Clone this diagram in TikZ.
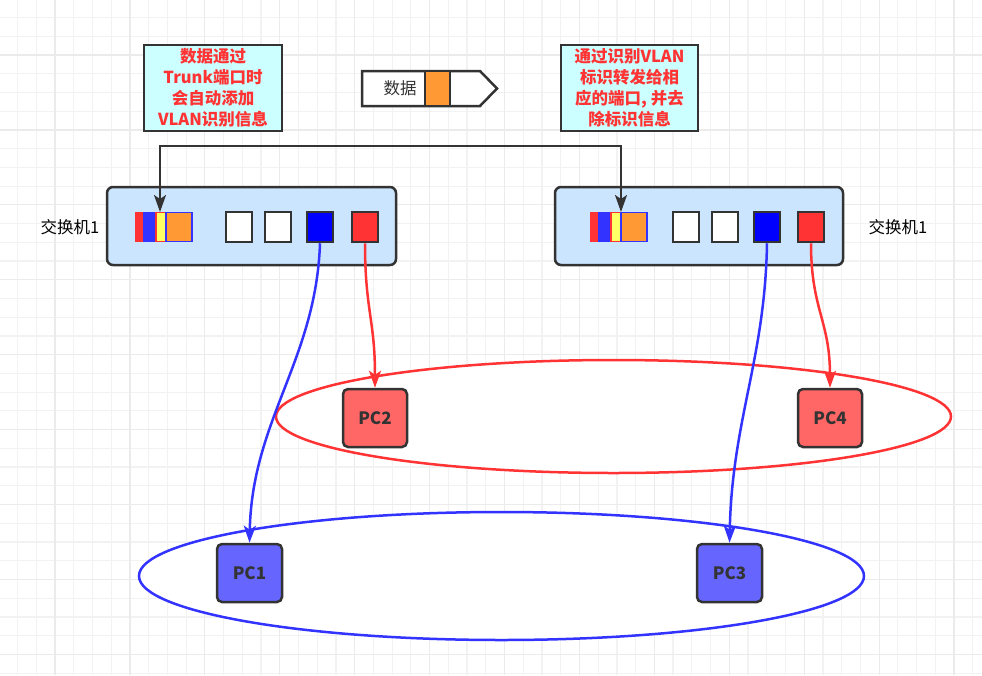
\documentclass[tikz,border=0pt]{standalone}
\usepackage{fontspec}
\setmainfont{Liberation Sans}
\newfontfamily\cjk{Noto Sans CJK SC}
\usetikzlibrary{arrows.meta,shapes.geometric}
\definecolor{edge}{HTML}{333333}
\definecolor{swfill}{HTML}{CCE5FF}
\definecolor{boxfill}{HTML}{CCFFFF}
\definecolor{redtxt}{HTML}{FF3333}
\definecolor{portblue}{HTML}{0000FF}
\definecolor{portred}{HTML}{FF3333}
\definecolor{pcred}{HTML}{FF6666}
\definecolor{pcblue}{HTML}{6666FF}
\definecolor{linered}{HTML}{FF3333}
\definecolor{lineblue}{HTML}{3333FF}
\definecolor{tagorange}{HTML}{FF9933}
\definecolor{tagyellow}{HTML}{FFFF66}
\definecolor{gridminor}{HTML}{F2F2F2}
\definecolor{gridmajor}{HTML}{EBEBEB}
\tikzset{
  switchbox/.style={draw=edge, line width=2.5pt, fill=swfill, rounded corners=6pt, inner sep=0pt, minimum height=78pt},
  portbox/.style={draw=edge, line width=2.5pt, minimum width=26pt, minimum height=30pt, inner sep=0pt},
  tagbar/.style={inner sep=0pt, minimum height=30pt},
  notebox/.style={draw=edge, line width=2.5pt, fill=boxfill, inner sep=0pt, minimum width=138pt, minimum height=86pt,
     font=\cjk\bfseries\fontsize{16.5}{21}\selectfont, text=redtxt, align=center},
  pcbox/.style={draw=edge, line width=2.5pt, rounded corners=5pt, inner sep=0pt, minimum width=64pt, minimum height=58pt,
     font=\cjk\bfseries\fontsize{17}{20}\selectfont, text=edge},
  vlanring/.style={ellipse, line width=2.5pt, fill=white, inner sep=0pt},
  swlabel/.style={font=\cjk\fontsize{16.5}{20}\selectfont, text=black, inner sep=0pt},
  tip/.style={-{Stealth[length=17pt,width=12pt,inset=4pt]}},
  trunkline/.style={draw=edge, line width=2.2pt, {Stealth[length=17pt,width=12pt,inset=4pt]}-{Stealth[length=17pt,width=12pt,inset=4pt]}},
  redlink/.style={draw=linered, line width=2.5pt, tip},
  bluelink/.style={draw=lineblue, line width=2.5pt, tip},
}
\begin{document}
\begin{tikzpicture}[x=1pt,y=-1pt]
\fill[white] (0,0) rectangle (982,675);
\useasboundingbox (0,0) rectangle (982,675);
% grid
\foreach \k in {-2,...,49}{
  \pgfmathsetmacro\gx{55+18.73*\k}
  \draw[gridminor, line width=1.2pt] (\gx,0) -- (\gx,675);
}
\foreach \k in {-2,...,33}{
  \pgfmathsetmacro\gy{55+18.73*\k}
  \draw[gridminor, line width=1.2pt] (0,\gy) -- (982,\gy);
}
\foreach \k in {0,...,12}{
  \pgfmathsetmacro\gx{55+74.92*\k}
  \draw[gridmajor, line width=1.2pt] (\gx,0) -- (\gx,675);
}
\foreach \k in {0,...,8}{
  \pgfmathsetmacro\gy{55+74.92*\k}
  \draw[gridmajor, line width=1.2pt] (0,\gy) -- (982,\gy);
}

% VLAN rings
\node[vlanring, draw=linered, minimum width=675pt, minimum height=113pt] (vlanred) at (613.5,416.5) {};
\node[vlanring, draw=lineblue, minimum width=725pt, minimum height=128pt] (vlanblue) at (501.5,576) {};

% notes
\node[notebox] (noteL) at (213,88) {数据通过\\Trunk端口时\\会自动添加\\VLAN识别信息};
\node[notebox, minimum width=137pt] (noteR) at (629.5,88) {通过识别VLAN\\标识转发给相\\应的端口, 并去\\除标识信息};

% data packet
\draw[edge, line width=2.5pt, fill=white] (362,71) -- (480,71) -- (497,88.5) -- (480,106) -- (362,106) -- cycle;
\node[draw=edge, line width=2.5pt, fill=tagorange, minimum width=25pt, minimum height=35pt, inner sep=0pt] (pkttag) at (437.5,88.5) {};
\node[swlabel, text=edge] (pkttext) at (400,88.5) {数据};

% switches
\node[switchbox, minimum width=289pt] (swL) at (251.5,226) {};
\node[switchbox, minimum width=288pt] (swR) at (699,226) {};
\node[swlabel] (swLlabel) at (70,227) {交换机1};
\node[swlabel] (swRlabel) at (898,227) {交换机1};

% left switch trunk stack
\node[tagbar, fill=portred, minimum width=15pt] (lred) at (142.5,227) {};
\node[tagbar, fill=lineblue, minimum width=14pt] (lblu) at (150,227) {};
\node[tagbar, fill=tagyellow, draw=portred, line width=1.6pt, minimum width=10pt, minimum height=29pt] (lyel) at (161,227) {};
\node[tagbar, fill=tagorange, draw=lineblue, line width=1.6pt, minimum width=26pt, minimum height=29pt] (lora) at (179,227) {};
% left ports
\node[portbox, fill=white] (lp1) at (239,227) {};
\node[portbox, fill=white] (lp2) at (278,227) {};
\node[portbox, fill=portblue] (lp3) at (320,227) {};
\node[portbox, fill=portred] (lp4) at (365,227) {};

% right switch trunk stack
\node[tagbar, fill=portred, minimum width=14pt] (rred) at (597,227) {};
\node[tagbar, fill=lineblue, minimum width=14pt] (rblu) at (605,227) {};
\node[tagbar, fill=tagyellow, draw=portred, line width=1.6pt, minimum width=10pt, minimum height=29pt] (ryel) at (616,227) {};
\node[tagbar, fill=tagorange, draw=lineblue, line width=1.6pt, minimum width=26pt, minimum height=29pt] (rora) at (634,227) {};
% right ports
\node[portbox, fill=white] (rp1) at (686,227) {};
\node[portbox, fill=white] (rp2) at (725,227) {};
\node[portbox, fill=portblue] (rp3) at (767,227) {};
\node[portbox, fill=portred] (rp4) at (811,227) {};

% PCs
\node[pcbox, fill=pcred] (pc2) at (375,418) {PC2};
\node[pcbox, fill=pcred] (pc4) at (830,418) {PC4};
\node[pcbox, fill=pcblue, minimum width=65pt] (pc1) at (249.5,573) {PC1};
\node[pcbox, fill=pcblue, minimum width=65pt] (pc3) at (729.5,573) {PC3};

% trunk connector
\coordinate (ltag) at (160,212);
\coordinate (rtag) at (621,212);
\draw[trunkline] (ltag) -- (160,146) -- (621,146) -- (rtag);

% links
\draw[bluelink] (lp3.south) .. controls (316,360) and (252,420) .. (pc1.north);
\draw[redlink] (lp4.south) .. controls (365,310) and (375,320) .. (pc2.north);
\draw[bluelink] (rp3.south) .. controls (765,360) and (732,420) .. (pc3.north);
\draw[redlink] (rp4.south) .. controls (811,310) and (830,320) .. (pc4.north);
\end{tikzpicture}
\end{document}
